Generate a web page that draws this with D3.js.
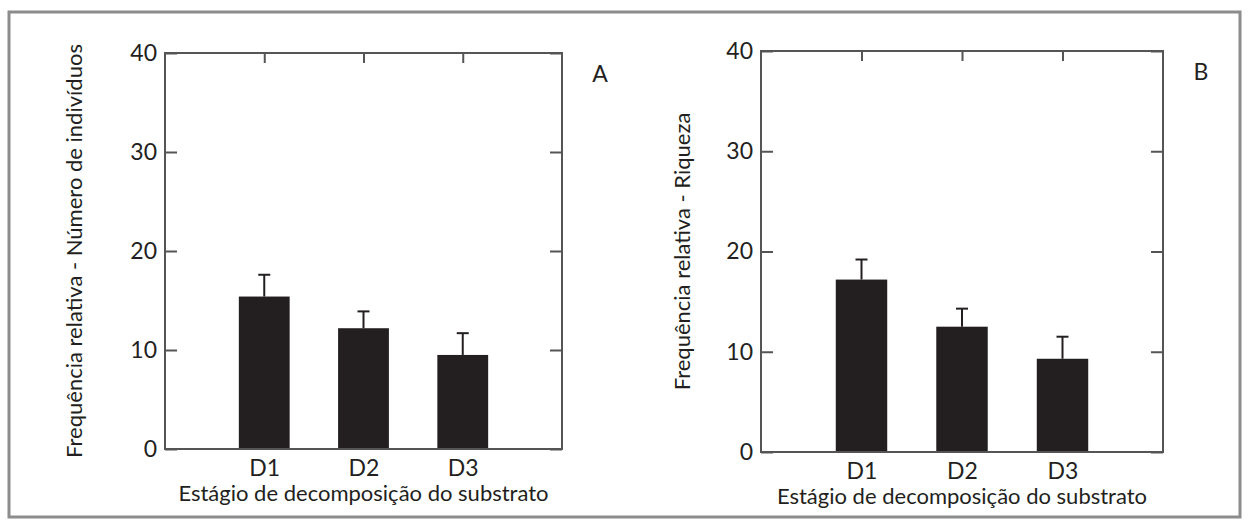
<!DOCTYPE html>
<html>
<head>
<meta charset="utf-8">
<script src="https://cdn.jsdelivr.net/npm/d3@7"></script>
<style>
  body { margin: 0; background: #fff; }
  text { font-family: Lato, "Open Sans", sans-serif; fill: #231f20; }
</style>
</head>
<body>
<svg id="chart" width="1249" height="529"></svg>
<script>
// Data
const categories = ["D1", "D2", "D3"];
const yTicks = [0, 10, 20, 30, 40];

const abundanceMeans  = [15.4, 12.2, 9.5];
const abundanceErrors = [2.2, 1.7, 2.2];

const richnessMeans  = [17.2, 12.5, 9.3];
const richnessErrors = [2.0, 1.8, 2.2];

const xTitle = "Estágio de decomposição do substrato";

const svg = d3.select("#chart");

// outer frame
svg.append("rect")
  .attr("x", 9).attr("y", 12)
  .attr("width", 1231).attr("height", 505)
  .attr("fill", "none")
  .attr("stroke", "#8c8c8c")
  .attr("stroke-width", 3);

const axisColor = "#555";
const barColor  = "#231f20";

function drawPanel(p) {
  const x = d3.scalePoint()
    .domain(categories)
    .range([p.left, p.right])
    .padding(1);

  const y = d3.scaleLinear()
    .domain([0, 40])
    .range([p.bottom, p.top]);

  const g = svg.append("g");
  const barWidth = (p.right - p.left) * 0.128;

  // bars
  g.selectAll("rect.bar")
    .data(p.means)
    .enter()
    .append("rect")
    .attr("class", "bar")
    .attr("x", (d, i) => x(categories[i]) - barWidth / 2)
    .attr("y", (d) => y(d))
    .attr("width", barWidth)
    .attr("height", (d) => y(0) - y(d))
    .attr("fill", barColor);

  // error bars (upper only)
  const err = g.selectAll("g.err")
    .data(p.means)
    .enter()
    .append("g")
    .attr("class", "err")
    .attr("stroke", barColor)
    .attr("stroke-width", 2);

  err.append("line")
    .attr("x1", (d, i) => x(categories[i]))
    .attr("x2", (d, i) => x(categories[i]))
    .attr("y1", (d) => y(d))
    .attr("y2", (d, i) => y(d + p.errors[i]));

  err.append("line")
    .attr("x1", (d, i) => x(categories[i]) - 6)
    .attr("x2", (d, i) => x(categories[i]) + 6)
    .attr("y1", (d, i) => y(d + p.errors[i]))
    .attr("y2", (d, i) => y(d + p.errors[i]));

  // axes, ticks pointing inward
  const left = g.append("g")
    .attr("transform", `translate(${p.left},0)`)
    .call(d3.axisLeft(y).tickValues(yTicks).tickSize(-12).tickSizeOuter(0).tickPadding(8));

  const right = g.append("g")
    .attr("transform", `translate(${p.right},0)`)
    .call(d3.axisRight(y).tickValues(yTicks).tickSize(-12).tickSizeOuter(0).tickFormat(""));

  const top = g.append("g")
    .attr("transform", `translate(0,${p.top})`)
    .call(d3.axisTop(x).tickSize(-10).tickSizeOuter(0).tickFormat(""));

  const bottom = g.append("g")
    .attr("transform", `translate(0,${p.bottom})`)
    .call(d3.axisBottom(x).tickSize(0).tickPadding(11));

  [left, right, top, bottom].forEach((a) => {
    a.select(".domain").remove();
    a.selectAll("line").attr("stroke", axisColor).attr("stroke-width", 2);
    a.selectAll("text")
      .attr("font-size", "23px")
      .attr("fill", "#231f20")
      .style("font-family", "Lato, sans-serif");
  });

  // plot box
  g.append("rect")
    .attr("x", p.left).attr("y", p.top)
    .attr("width", p.right - p.left)
    .attr("height", p.bottom - p.top)
    .attr("fill", "none")
    .attr("stroke", axisColor)
    .attr("stroke-width", 2);

  // x title
  g.append("text")
    .attr("x", (p.left + p.right) / 2)
    .attr("y", p.bottom + 52)
    .attr("text-anchor", "middle")
    .attr("font-size", "22px")
    .text(xTitle);

  // y title
  g.append("text")
    .attr("transform", `translate(${p.yTitleX},${(p.top + p.bottom) / 2}) rotate(-90)`)
    .attr("text-anchor", "middle")
    .attr("font-size", "22px")
    .text(p.yTitle);

  // panel letter
  g.append("text")
    .attr("x", p.right + 38)
    .attr("y", p.top + 29)
    .attr("text-anchor", "middle")
    .attr("font-size", "23px")
    .text(p.letter);
}

drawPanel({
  left: 165, right: 562, top: 53, bottom: 449,
  means: abundanceMeans, errors: abundanceErrors,
  yTitle: "Frequência relativa - Número de indivíduos",
  yTitleX: 82, letter: "A"
});

drawPanel({
  left: 761, right: 1163, top: 51, bottom: 452,
  means: richnessMeans, errors: richnessErrors,
  yTitle: "Frequência relativa - Riqueza",
  yTitleX: 690, letter: "B"
});
</script>
</body>
</html>
